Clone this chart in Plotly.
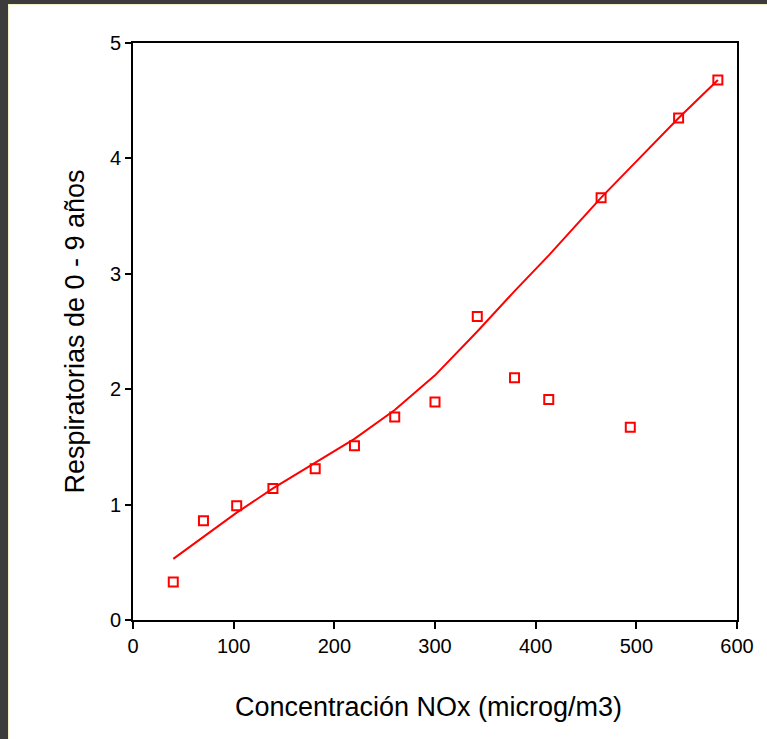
import plotly.graph_objects as go

# Observed data
nox = [40, 70, 103, 139, 181, 220, 260, 300, 342, 379, 413, 465, 494, 542, 581]
resp = [0.33, 0.86, 0.99, 1.14, 1.31, 1.51, 1.76, 1.89, 2.63, 2.10, 1.91, 3.66, 1.67, 4.35, 4.68]
# Fitted (smoothed) line
fit = [0.53, 0.72, 0.93, 1.14, 1.36, 1.57, 1.82, 2.12, 2.50, 2.85, 3.16, 3.66, 3.92, 4.35, 4.68]

x_ticks = [0, 100, 200, 300, 400, 500, 600]
y_ticks = [0, 1, 2, 3, 4, 5]

W, H = 767, 739
L, R, T, B = 133, 30, 43, 119
pw, ph = W - L - R, H - T - B

fig = go.Figure()
fig.add_trace(go.Scatter(x=nox, y=fit, mode="lines",
                         line=dict(color="#ff0000", width=2), hoverinfo="skip",
                         showlegend=False))
fig.add_trace(go.Scatter(x=nox, y=resp, mode="markers",
                         marker=dict(symbol="square-open", size=9, color="#ff0000",
                                     line=dict(width=2, color="#ff0000")),
                         showlegend=False))

font = "Liberation Sans, Arial, sans-serif"

def px_x(p):
    return (p - L) / pw

def px_y(p):
    return (H - B - p) / ph

shapes = [
    # dark slide border strips
    dict(type="rect", xref="paper", yref="paper", x0=px_x(0), x1=px_x(8), y0=px_y(H), y1=px_y(0),
         fillcolor="#3c3c3c", line=dict(width=0), layer="above"),
    dict(type="rect", xref="paper", yref="paper", x0=px_x(0), x1=px_x(W), y0=px_y(4), y1=px_y(0),
         fillcolor="#3c3c3c", line=dict(width=0), layer="above"),
    dict(type="line", xref="paper", yref="paper", x0=px_x(8.5), x1=px_x(8.5), y0=px_y(H), y1=px_y(4),
         line=dict(color="#f2f0c8", width=1), layer="above"),
    dict(type="line", xref="paper", yref="paper", x0=px_x(8), x1=px_x(W), y0=px_y(4.5), y1=px_y(4.5),
         line=dict(color="#f2f0c8", width=1), layer="above"),
]

annotations = [
    dict(text="Concentración NOx (microg/m3)", xref="paper", yref="paper",
         x=px_x(428), y=px_y(707), xanchor="center", yanchor="middle", showarrow=False,
         font=dict(size=27, family=font, color="black")),
]

fig.update_layout(
    width=W, height=H,
    margin=dict(l=L, r=R, t=T, b=B),
    paper_bgcolor="white", plot_bgcolor="white",
    font=dict(family=font, color="black", size=20),
    shapes=shapes,
    annotations=annotations,
    xaxis=dict(range=[0, 600], tickvals=x_ticks, showgrid=False, zeroline=False,
               showline=True, mirror=True, linecolor="black", linewidth=2,
               ticks="outside", ticklen=7, tickwidth=2, tickcolor="black",
               tickfont=dict(size=20, family=font)),
    yaxis=dict(range=[0, 5], tickvals=y_ticks, showgrid=False, zeroline=False,
               showline=True, mirror=True, linecolor="black", linewidth=2,
               ticks="outside", ticklen=6, tickwidth=2, tickcolor="black",
               tickfont=dict(size=20, family=font),
               title=dict(text="Respiratorias de 0 - 9 años", standoff=17,
                          font=dict(size=27, family=font))),
)

fig.write_html("out.html", config={"displayModeBar": False},
               post_script="document.body.style.margin='0';document.body.style.overflow='hidden';")
